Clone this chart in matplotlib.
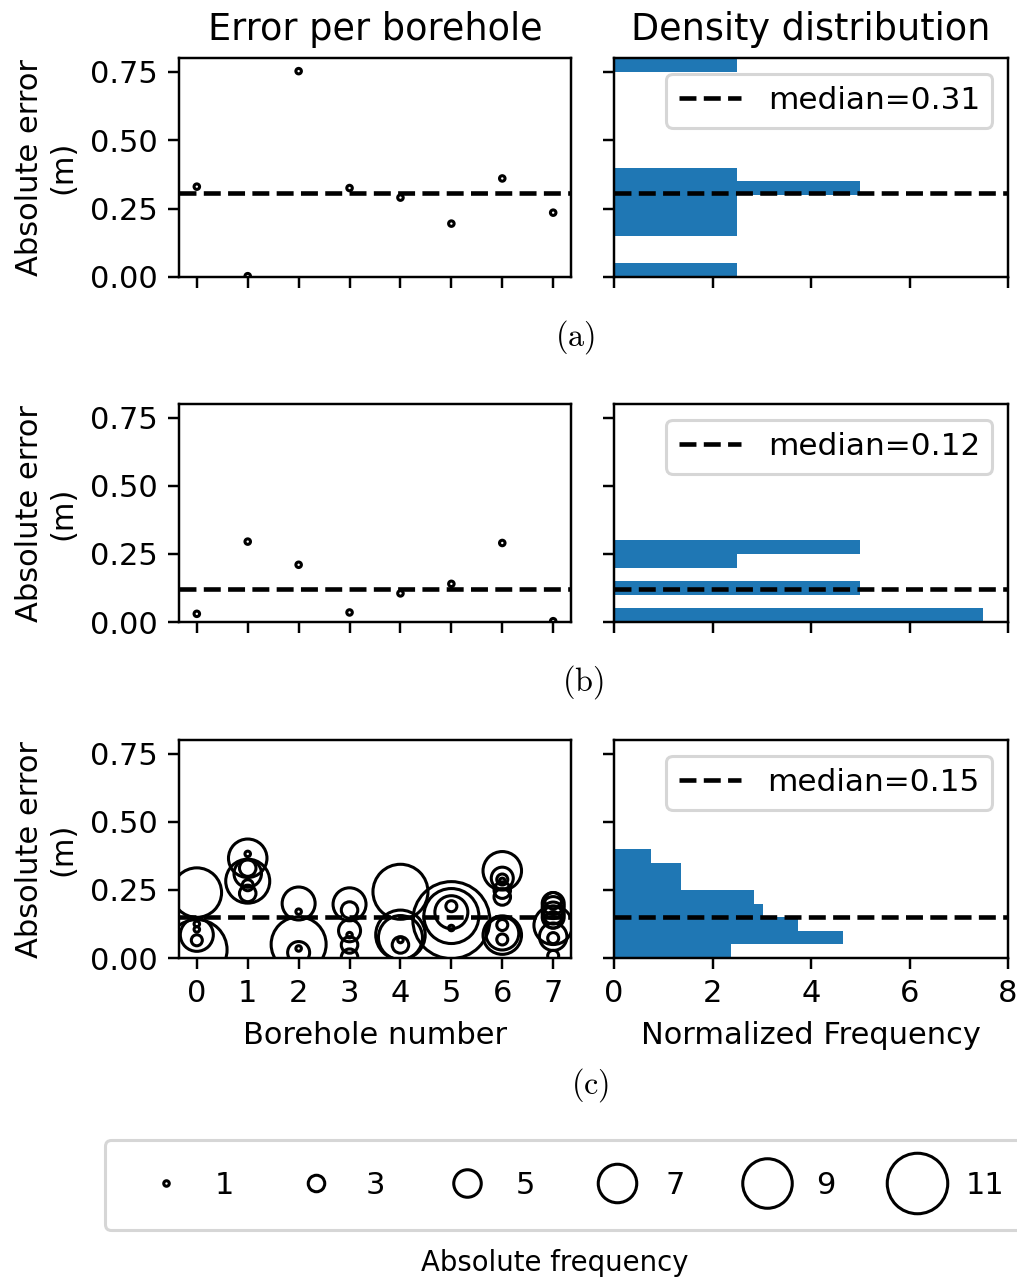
import numpy as np
import matplotlib
matplotlib.use("Agg")
import matplotlib.pyplot as plt
from matplotlib.lines import Line2D

plt.rcParams["font.family"] = "DejaVu Sans"
plt.rcParams["mathtext.fontset"] = "cm"
plt.rcParams["font.size"] = 10

# ---------------------------------------------------------------- data
boreholes = np.arange(8)

# (a) and (b): one error value per borehole
err_a = [0.33, 0.003, 0.752, 0.325, 0.29, 0.195, 0.36, 0.235]
err_b = [0.03, 0.295, 0.21, 0.035, 0.105, 0.14, 0.29, 0.003]

# (c): several error values per borehole, with their absolute frequency
c_borehole = [0, 0, 0, 0, 0, 0,
              1, 1, 1, 1, 1, 1, 1,
              2, 2, 2, 2, 2,
              3, 3, 3, 3, 3, 3,
              4, 4, 4, 4, 4,
              5, 5, 5, 5, 5,
              6, 6, 6, 6, 6, 6, 6, 6, 6, 6,
              7, 7, 7, 7, 7, 7, 7, 7, 7, 7]
c_error = [0.24, 0.03, 0.085, 0.065, 0.105, 0.125,
           0.366, 0.282, 0.31, 0.33, 0.382, 0.267, 0.237,
           0.20, 0.17, 0.05, 0.02, 0.035,
           0.197, 0.176, 0.10, 0.084, 0.048, 0.003,
           0.243, 0.085, 0.075, 0.048, 0.066,
           0.139, 0.154, 0.168, 0.19, 0.11,
           0.32, 0.293, 0.288, 0.249, 0.224, 0.084, 0.09, 0.121, 0.068, 0.283,
           0.21, 0.20, 0.185, 0.165, 0.15, 0.12, 0.078, 0.073, 0.008, 0.14]
c_freq = [9, 11, 6, 2, 1, 1,
          7, 8, 5, 3, 1, 2, 3,
          6, 1, 10, 4, 1,
          6, 3, 4, 1, 3, 3,
          10, 9, 8, 3, 1,
          14, 10, 6, 2, 1,
          7, 4, 2, 3, 3, 7, 6, 2, 2, 1,
          3, 4, 4, 4, 4, 7, 5, 2, 2, 3]

# (c): normalized histogram of the errors
c_bin_edges = [0.0, 0.05, 0.10, 0.15, 0.20, 0.25, 0.30, 0.35, 0.40]
c_density = [2.37, 4.64, 3.73, 3.02, 2.84, 1.37, 1.37, 0.745]
c_median = 0.15

hist_bins = np.round(np.arange(0, 0.85, 0.05), 2)
legend_freqs = [1, 3, 5, 7, 9, 11]

row_names = ["(a)", "(b)", "(c)"]


def marker_diam(f):
    return 1.8 * np.asarray(f, dtype=float)


# ---------------------------------------------------------------- figure
W, H = 1017, 1280
fig = plt.figure(figsize=(W / 220, H / 220), dpi=220)


def px_axes(x0, y0, x1, y1):
    return fig.add_axes([x0 / W, 1 - y1 / H, (x1 - x0) / W, (y1 - y0) / H])


rows_y = [(58, 277), (404, 622), (740, 958)]
label_pos = [(575, 337), (583, 682), (590, 1085)]

panels = [
    dict(x=boreholes, y=err_a, f=np.ones(8)),
    dict(x=boreholes, y=err_b, f=np.ones(8)),
    dict(x=c_borehole, y=c_error, f=c_freq),
]

for i, (y0, y1) in enumerate(rows_y):
    axl = px_axes(179, y0, 571, y1)
    axr = px_axes(614, y0, 1008, y1)
    p = panels[i]

    axl.scatter(p["x"], p["y"], s=marker_diam(p["f"]) ** 2,
                facecolors="none", edgecolors="black", linewidths=1.0)
    if i < 2:
        med = np.median(p["y"])
        axr.hist(p["y"], bins=hist_bins, density=True,
                 orientation="horizontal", color="#1f77b4")
    else:
        med = c_median
        axr.barh(c_bin_edges[:-1], c_density, height=0.05, align="edge",
                 color="#1f77b4")

    axl.axhline(med, color="black", ls="--", lw=1.5)
    axr.axhline(med, color="black", ls="--", lw=1.5,
                label=f"median={med:.2f}")
    axr.legend(loc="upper right", fontsize=10.2, handletextpad=0.85)

    axl.set_xlim(-0.35, 7.35)
    axl.set_xticks(range(8))
    axl.set_ylim(0, 0.8)
    axl.set_yticks([0, 0.25, 0.5, 0.75])
    axl.set_ylabel("Absolute error\n(m)")

    axr.set_xlim(0, 8)
    axr.set_xticks([0, 2, 4, 6, 8])
    axr.set_ylim(0, 0.8)
    axr.set_yticks([0, 0.25, 0.5, 0.75])
    axr.tick_params(labelleft=False)

    if i == 0:
        axl.set_title("Error per borehole", fontsize=12)
        axr.set_title("Density distribution", fontsize=12)
    if i < 2:
        axl.tick_params(labelbottom=False)
        axr.tick_params(labelbottom=False)
    else:
        axl.set_xlabel("Borehole number")
        axr.set_xlabel("Normalized Frequency")

    lx, ly = label_pos[i]
    fig.text(lx / W, 1 - ly / H, r"$\mathrm{%s}$" % row_names[i],
             ha="center", va="center", fontsize=10.5)

# size legend for the absolute frequency
handles = [Line2D([], [], ls="", marker="o", markersize=float(marker_diam(f)),
                  markerfacecolor="none", markeredgecolor="black",
                  markeredgewidth=1.0, label=str(f))
           for f in legend_freqs]
fig.legend(handles=handles, ncol=len(handles), loc="upper left",
           bbox_to_anchor=(105 / W, 1 - 1140 / H), borderaxespad=0,
           borderpad=1.0, columnspacing=1.68, handletextpad=0.6, fontsize=10)
fig.text(555 / W, 1 - 1263 / H, "Absolute frequency", ha="center",
         va="center", fontsize=9)

fig.savefig("out.png", dpi=220)
